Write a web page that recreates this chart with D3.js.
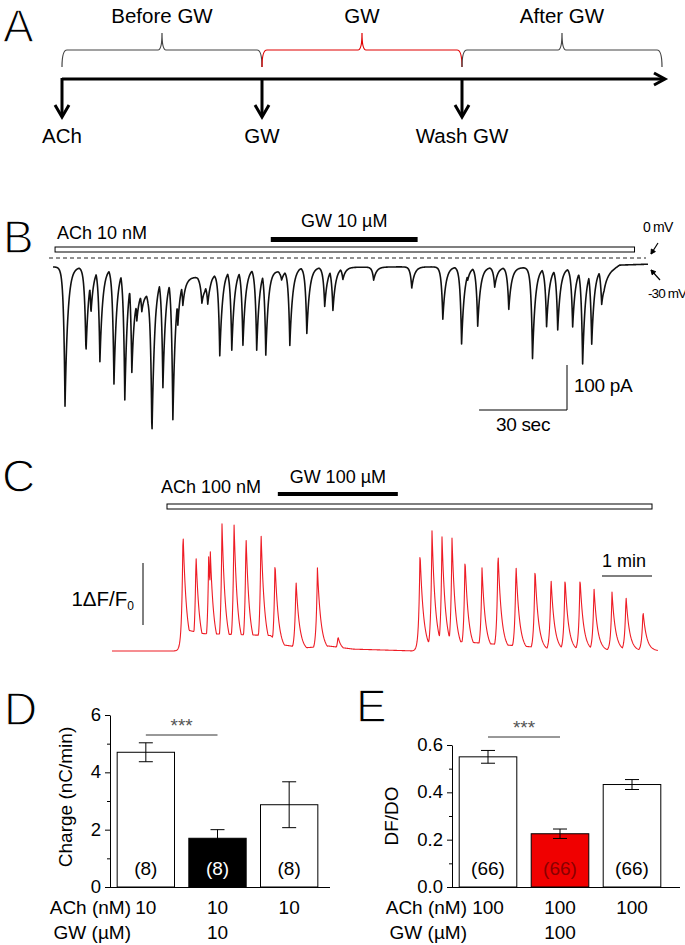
<!DOCTYPE html>
<html><head><meta charset="utf-8">
<script src="https://cdn.jsdelivr.net/npm/d3@7"></script>
<style>
body{margin:0;background:#fff}
svg{display:block}
text{font-family:"Liberation Sans",Arial,sans-serif;fill:#000}
.big{font-family:"Liberation Sans",Arial,sans-serif;stroke:#fff;stroke-width:1.3px;paint-order:normal}
</style>
</head><body>
<svg id="fig" width="685" height="945"></svg>
<script>
// ---------------- DATA ----------------
// Panel A
const phaseLabels = ["Before GW", "GW", "After GW"];
const eventLabels = ["ACh", "GW", "Wash GW"];

// Panel B (whole-cell current, time in s, current in pA)
const bSpikeTimes = [4.1,11.25,12.95,16.0,20.8,24.5,26.9,28.6,30.3,33.75,37.5,40.9,42.6,44.3,50.8,52.8,56.9,61.0,64.8,69.5,72.6,78.0,80.8,86.6,92.7,95.5,98.9,109.4,122.4,133.0,139.4,141.5,144.9,150.7,155.5,163.6,168.4,172.2,177.3,180.7,183.8,187.2];
const bSpikeAmps  = [309,191,102,209,258,293,216,76,49,338,249,320,109,64,49,53,187,180,171,182,193,20,169,147,87,96,27,29,47,116,171,29,131,44,93,202,131,138,131,213,169,71];
const bDriftTimes = [0,26,28.3,32.4,35,38.7,46,49.4,51.8,54.2,58.6,65.5,74,77.4,84,98,118,132,186.5,188,190.6,193.3,203];
const bDriftVals  = [-2,-5,-45,-60,-25,-20,-25,-25,-40,-20,-8,-5,-5,-12,-3,-3,-2,-2,-5,-25,-10,2,4];
const bAchBar = [0.7, 198.4];
const bGwBar = [74.3, 124.4];

// Panel C (Ca2+ imaging, time in s, dF/F0)
const cPeakTimes = [85.2,100.8,116.0,118.0,132,146.4,160.8,178.8,195.6,220.8,246.5,271.2,369.6,384,396,408,423.6,444,463.2,484.8,507.6,526.8,543.6,561.6,578.4,600,616.8,637.2];
const cPeakVals  = [1.94,1.56,1.52,1.60,2.05,2.08,1.87,1.94,1.44,1.15,1.34,0.23,1.61,1.94,1.84,1.82,1.50,1.34,1.61,1.40,1.34,1.18,1.19,1.19,1.02,0.95,0.89,0.65];
const cPlateauTimes = [0,82,86,110,190,205,230,260,290,365,370,420,470,520,560,600,630,655];
const cPlateauVals  = [0,0,0.35,0.28,0.25,0.1,0.05,0.08,0.03,0.0,0.15,0.15,0.1,0.05,0.0,-0.05,-0.1,-0.15];
const cAchBar = [66, 648];
const cGwBar = [199, 343];

// Panel D
const dGroups = ["ctrl", "gw", "wash"];
const dValues = [4.7, 1.7, 2.87];
const dErrors = [0.33, 0.3, 0.8];
const dN = ["(8)", "(8)", "(8)"];
const dAch = ["10", "10", "10"];
const dGW = ["", "10", ""];
const dTicks = [0, 2, 4, 6];
const dMinor = [1, 3, 5];

// Panel E
const eGroups = ["ctrl", "gw", "wash"];
const eValues = [0.55, 0.225, 0.433];
const eErrors = [0.027, 0.02, 0.021];
const eN = ["(66)", "(66)", "(66)"];
const eAch = ["100", "100", "100"];
const eGW = ["", "100", ""];
const eTicks = [0, 0.2, 0.4, 0.6];
const eMinor = [0.1, 0.3, 0.5];

// ---------------- DRAW ----------------
const svg = d3.select("#fig");

function panelLetter(t, x, y){
  svg.append("text").attr("class","big").attr("x",x).attr("y",y)
    .attr("font-size",46).text(t);
}

// ===== Panel A =====
panelLetter("A", 3, 42);
const xA = d3.scaleLinear().domain([0,3]).range([62,662]);
const braceColors = ["#444", "#e00000", "#444"];
function bracePath(x0, x1){
  const m = (x0+x1)/2;
  return `M${x0},67 Q${x0},50 ${x0+5},50 L${m-4},50 Q${m},50 ${m},33 Q${m},50 ${m+4},50 L${x1-5},50 Q${x1},50 ${x1},67`;
}
phaseLabels.forEach((lab,i)=>{
  svg.append("path").attr("d", bracePath(xA(i), xA(i+1)))
    .attr("fill","none").attr("stroke",braceColors[i]).attr("stroke-width",1.2);
  svg.append("text").attr("x",(xA(i)+xA(i+1))/2).attr("y",23)
    .attr("text-anchor","middle").attr("font-size",20.5).text(lab);
});
svg.append("line").attr("x1",xA(0)).attr("x2",xA(3)+2).attr("y1",79).attr("y2",79)
  .attr("stroke","#000").attr("stroke-width",3);
svg.append("polyline").attr("points",`${xA(3)-8},73 ${xA(3)+3},79 ${xA(3)-8},85`)
  .attr("fill","none").attr("stroke","#000").attr("stroke-width",3);
eventLabels.forEach((lab,i)=>{
  const x = xA(i);
  svg.append("line").attr("x1",x).attr("x2",x).attr("y1",78).attr("y2",116)
    .attr("stroke","#000").attr("stroke-width",3);
  svg.append("polyline").attr("points",`${x-7},105 ${x},117 ${x+7},105`)
    .attr("fill","none").attr("stroke","#000").attr("stroke-width",3);
  svg.append("text").attr("x",x).attr("y",143).attr("text-anchor","middle")
    .attr("font-size",20.5).text(lab);
});

// ===== Panel B =====
panelLetter("B", 3, 253);
const xB = d3.scaleLinear().domain([0,203]).range([53,648]);
const yB = d3.scaleLinear().domain([0,-100]).range([266,311]);
svg.append("text").attr("x",57).attr("y",239).attr("font-size",18).text("ACh 10 nM");
svg.append("text").attr("x",xB(d3.mean(bGwBar))).attr("y",227).attr("text-anchor","middle")
  .attr("font-size",18).text("GW 10 µM");
svg.append("rect").attr("x",xB(bGwBar[0])).attr("width",xB(bGwBar[1])-xB(bGwBar[0]))
  .attr("y",237).attr("height",5).attr("fill","#000");
svg.append("rect").attr("x",xB(bAchBar[0])).attr("width",xB(bAchBar[1])-xB(bAchBar[0]))
  .attr("y",247).attr("height",5).attr("fill","#fff").attr("stroke","#000").attr("stroke-width",1);
svg.append("line").attr("x1",49).attr("x2",646).attr("y1",258).attr("y2",258)
  .attr("stroke","#222").attr("stroke-width",1).attr("stroke-dasharray","4,3");
const bDrift = d3.scaleLinear().domain(bDriftTimes).range(bDriftVals).clamp(true);
const bTrace = d3.range(0, 203.01, 0.1).map(t=>{
  let dip = 0;
  bSpikeTimes.forEach((s,i)=>{
    const dt = t - s;
    const k = dt < 0 ? Math.exp(dt/0.5) : Math.exp(-dt/0.95);
    dip = Math.max(dip, bSpikeAmps[i]*k);
  });
  return [t, bDrift(t) - dip];
});
svg.append("path").datum(bTrace)
  .attr("d", d3.line().x(d=>xB(d[0])).y(d=>yB(d[1])))
  .attr("fill","none").attr("stroke","#111").attr("stroke-width",1.6).attr("stroke-linejoin","round");
// voltage labels
svg.append("text").attr("x",643).attr("y",232).attr("font-size",14).attr("letter-spacing",-0.8).text("0 mV");
svg.append("text").attr("x",648).attr("y",298).attr("font-size",13.5).attr("letter-spacing",-0.9).text("-30 mV");
function smallArrow(x1,y1,x2,y2){
  svg.append("line").attr("x1",x1).attr("y1",y1).attr("x2",x2).attr("y2",y2)
    .attr("stroke","#000").attr("stroke-width",1.2);
  const a = Math.atan2(y2-y1,x2-x1), L=5;
  const p1=[x2-L*Math.cos(a-0.5), y2-L*Math.sin(a-0.5)], p2=[x2-L*Math.cos(a+0.5), y2-L*Math.sin(a+0.5)];
  svg.append("path").attr("d",`M${p1}L${x2},${y2}L${p2}Z`).attr("fill","#000").attr("stroke","#000");
}
smallArrow(658,243,651,254);
smallArrow(660,280,651,270);
// scale bars
const sbx = 567, sby = 410;
svg.append("path").attr("d",`M${sbx - (xB(30)-xB(0))},${sby} H${sbx} V${sby - (yB(-100)-yB(0))}`)
  .attr("fill","none").attr("stroke","#000").attr("stroke-width",1);
svg.append("text").attr("x",574).attr("y",392).attr("font-size",19).attr("letter-spacing",-0.3).text("100 pA");
svg.append("text").attr("x",523).attr("y",431).attr("text-anchor","middle").attr("font-size",19).attr("letter-spacing",-0.3).text("30 sec");

// ===== Panel C =====
panelLetter("C", 2, 492);
const xC = d3.scaleLinear().domain([0,60]).range([112,162]);
const yC = d3.scaleLinear().domain([0,1]).range([651,589]);
svg.append("text").attr("x",161).attr("y",493).attr("font-size",18).text("ACh 100 nM");
svg.append("text").attr("x",xC(d3.mean(cGwBar))).attr("y",483).attr("text-anchor","middle")
  .attr("font-size",18).text("GW 100 µM");
svg.append("rect").attr("x",xC(cGwBar[0])).attr("width",xC(cGwBar[1])-xC(cGwBar[0]))
  .attr("y",492).attr("height",4).attr("fill","#000");
svg.append("rect").attr("x",xC(cAchBar[0])).attr("width",xC(cAchBar[1])-xC(cAchBar[0]))
  .attr("y",504).attr("height",5).attr("fill","#fff").attr("stroke","#000").attr("stroke-width",1);
const cPlateau = d3.scaleLinear().domain(cPlateauTimes).range(cPlateauVals).clamp(true);
const cTrace = d3.range(0, 655.1, 0.5).map(t=>{
  let v = cPlateau(t);
  cPeakTimes.forEach((s,i)=>{
    const dt = t - s;
    const k = dt < 0 ? Math.exp(dt/1.5) : Math.exp(-dt/4.2);
    v = Math.max(v, cPeakVals[i]*k);
  });
  return [t, v];
});
svg.append("path").datum(cTrace)
  .attr("d", d3.line().x(d=>xC(d[0])).y(d=>yC(d[1])))
  .attr("fill","none").attr("stroke","#ee1c25").attr("stroke-width",1.1).attr("stroke-linejoin","round");
// scale bars C
svg.append("line").attr("x1",143).attr("x2",143).attr("y1",625).attr("y2",625-(yC(0)-yC(1)))
  .attr("stroke","#000").attr("stroke-width",1);
const fl = svg.append("text").attr("x",134).attr("y",606).attr("text-anchor","end").attr("font-size",20.5);
fl.append("tspan").text("1ΔF/F");
fl.append("tspan").attr("font-size",12).attr("dy",4).text("0");
svg.append("line").attr("x1",602).attr("x2",602+(xC(60)-xC(0))).attr("y1",576).attr("y2",576)
  .attr("stroke","#000").attr("stroke-width",1.2);
svg.append("text").attr("x",624).attr("y",567).attr("text-anchor","middle").attr("font-size",18).text("1 min");

// ===== Bar panels =====
function barPanel(cfg){
  const g = svg.append("g");
  const y = d3.scaleLinear().domain(cfg.domain).range([887, cfg.top]);
  const x = d3.scaleBand().domain(cfg.groups).range(cfg.xr).paddingInner(0.2).paddingOuter(0.1);
  cfg.groups.forEach((gname,i)=>{
    g.append("rect").attr("x",x(gname)).attr("width",x.bandwidth())
      .attr("y",y(cfg.values[i])).attr("height",y(0)-y(cfg.values[i]))
      .attr("fill",cfg.fills[i]).attr("stroke","#000").attr("stroke-width",1);
    const cx = x(gname)+x.bandwidth()/2;
    const hi = y(cfg.values[i]+cfg.errors[i]), lo = y(cfg.values[i]-cfg.errors[i]);
    g.append("line").attr("x1",cx).attr("x2",cx).attr("y1",hi).attr("y2",lo).attr("stroke","#000").attr("stroke-width",1);
    [hi,lo].forEach(yy=>g.append("line").attr("x1",cx-7).attr("x2",cx+7).attr("y1",yy).attr("y2",yy)
      .attr("stroke","#000").attr("stroke-width",1));
    g.append("text").attr("x",cx).attr("y",875).attr("text-anchor","middle").attr("font-size",19)
      .style("fill",cfg.nColors[i]).text(cfg.n[i]);
    g.append("text").attr("x",cx).attr("y",914).attr("text-anchor","middle").attr("font-size",19).text(cfg.ach[i]);
    g.append("text").attr("x",cx).attr("y",939).attr("text-anchor","middle").attr("font-size",19).text(cfg.gw[i]);
  });
  const ax = g.append("g").attr("transform",`translate(${cfg.xr[0]},0)`)
    .call(d3.axisLeft(y).tickValues(cfg.ticks).tickFormat(cfg.fmt).tickSize(5).tickSizeOuter(0).tickPadding(4));
  ax.selectAll("text").attr("font-size",18.5).attr("font-family","Liberation Sans, Arial, sans-serif")
    .attr("dy","0.3em").style("fill","#000");
  const mx = g.append("g").attr("transform",`translate(${cfg.xr[0]},0)`)
    .call(d3.axisLeft(y).tickValues(cfg.minor).tickFormat("").tickSize(3).tickSizeOuter(0));
  mx.select(".domain").remove();
  g.append("line").attr("x1",cfg.xr[0]).attr("x2",cfg.xEnd).attr("y1",887.5).attr("y2",887.5)
    .attr("stroke","#000").attr("stroke-width",1);
  const c0 = x(cfg.groups[0])+x.bandwidth()/2, c1 = x(cfg.groups[1])+x.bandwidth()/2;
  g.append("line").attr("x1",c0).attr("x2",c1).attr("y1",cfg.sigY).attr("y2",cfg.sigY)
    .attr("stroke","#333").attr("stroke-width",1);
  g.append("text").attr("x",(c0+c1)/2).attr("y",cfg.sigY-3).attr("text-anchor","middle")
    .attr("font-size",19).style("fill","#555").text("***");
  g.append("text").attr("transform",`translate(${cfg.ylx},${cfg.yly}) rotate(-90)`)
    .attr("text-anchor","middle").attr("font-size",19).text(cfg.ylabel);
  g.append("text").attr("x",cfg.rowX).attr("y",914).attr("text-anchor","end").attr("font-size",19).text("ACh (nM)");
  g.append("text").attr("x",cfg.rowX).attr("y",939).attr("text-anchor","end").attr("font-size",19).text("GW (µM)");
}

panelLetter("D", 4, 725);
barPanel({groups:dGroups, values:dValues, errors:dErrors, n:dN, ach:dAch, gw:dGW,
  domain:[0,6], top:715, xr:[110,325], xEnd:330, ticks:dTicks, minor:dMinor, fmt:d3.format("d"),
  fills:["#fff","#000","#fff"], nColors:["#000","#fff","#000"], sigY:735,
  ylabel:"Charge (nC/min)", ylx:72, yly:797, rowX:131});

panelLetter("E", 356, 722);
barPanel({groups:eGroups, values:eValues, errors:eErrors, n:eN, ach:eAch, gw:eGW,
  domain:[0,0.6], top:745, xr:[452,668], xEnd:680, ticks:eTicks, minor:eMinor, fmt:d3.format(".1f"),
  fills:["#fff","#f00000","#fff"], nColors:["#000","#8a0000","#000"], sigY:737,
  ylabel:"DF/DO", ylx:398, yly:816, rowX:467});
</script>
</body></html>
